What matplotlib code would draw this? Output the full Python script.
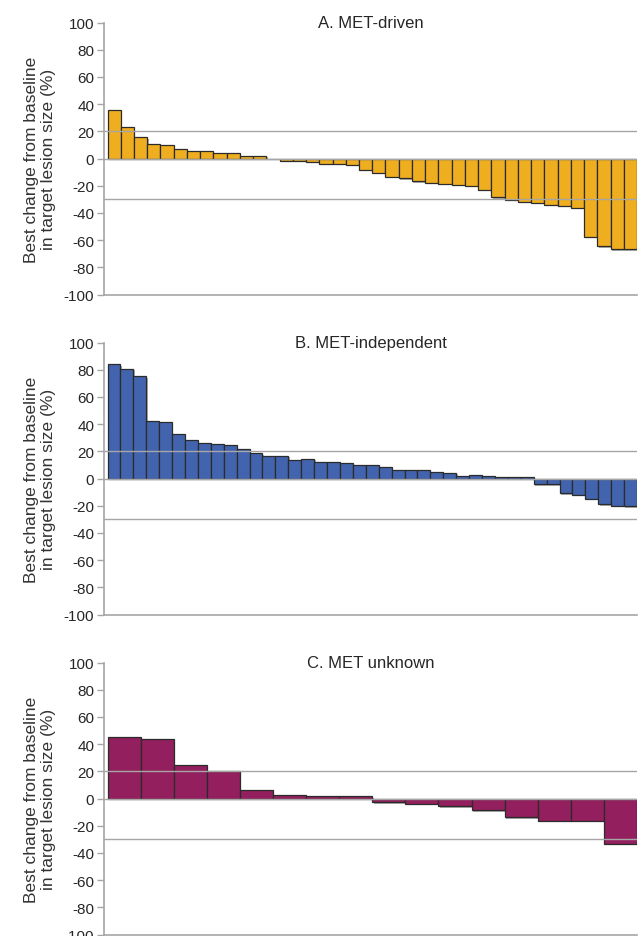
import matplotlib
matplotlib.use("Agg")
import matplotlib.pyplot as plt
import matplotlib.patheffects as pe
import numpy as np

plt.rcParams['font.family'] = ['Liberation Sans', 'DejaVu Sans']
plt.rcParams['axes.unicode_minus'] = False

# best change from baseline (%) per patient, sorted
met_driven = [36, 23.5, 15.7, 10.3, 9.8, 7.1, 5.4, 5.4, 4.2, 4.2, 2, 2, 0,
              -1.7, -1.7, -2.4, -3.9, -3.9, -4.6, -8.3, -10.3, -13.5, -14.7,
              -16.9, -17.9, -18.6, -19.4, -20.1, -22.8, -28.4, -30.4, -31.9,
              -32.8, -34, -34.8, -36.3, -57.6, -64.5, -66.9, -66.9]
met_indep = [84, 80.8, 75.2, 42.3, 41.3, 32.7, 28.6, 25.9, 25.4, 24.4, 21.7,
             18.6, 16.8, 16.8, 13.9, 14.6, 12.5, 12.5, 11.7, 9.8, 9.8, 8.1,
             6.6, 6.1, 6.1, 4.9, 4.4, 1.7, 2.4, 1.7, 1.2, 1.2, 1.2, -4.4, -4.4,
             -11, -12.2, -14.8, -18.9, -19.9, -20.5]
met_unknown = [44.9, 43.6, 24.9, 20, 6.3, 2.9, 1.7, 1.7, -2.9, -3.9, -5.6,
               -8.8, -13.7, -16.3, -16.3, -33.4]

titles = ["A. MET-driven", "B. MET-independent", "C. MET unknown"]
colors = ["#EFAE1F", "#4264AE", "#931F5E"]
yticks = [100, 80, 60, 40, 20, 0, -20, -40, -60, -80, -100]
ylab = "Best change from baseline\nin target lesion size (%)"

W, H = 638, 937
fig = plt.figure(figsize=(W / 100, H / 100), dpi=100)

left, right = 104, 637
tops = [23.5, 343.5, 663.5]
ph = 272
grey = "#a6a6a6"

for data, title, col, top in zip([met_driven, met_indep, met_unknown],
                                 titles, colors, tops):
    ax = fig.add_axes([left / W, 1 - (top + ph) / H, (right - left) / W, ph / H])
    n = len(data)
    bw = (right - left - 3.5) / n
    x = np.arange(n)
    bars = ax.bar(x, data, width=1.0, align='edge', color=col,
                  edgecolor="#2b2b2b", linewidth=0.9, zorder=2)
    for b in bars:
        b.set_path_effects([pe.SimplePatchShadow(offset=(1, -1), shadow_rgbFace="#777777", alpha=0.6),
                            pe.Normal()])
    for yv in (20, 0, -30):
        ax.axhline(yv, color=grey, lw=1.0, zorder=3)
    ax.set_xlim(-3.5 / bw, n)
    ax.set_ylim(-100, 100)
    ax.set_yticks(yticks)
    ax.set_yticklabels([str(v) for v in yticks])
    ax.set_xticks([])
    ax.tick_params(axis='y', length=5, width=1, color=grey, labelsize=11,
                   labelcolor="#262626", pad=2)
    for s in ('top', 'right'):
        ax.spines[s].set_visible(False)
    for s in ('left', 'bottom'):
        ax.spines[s].set_color(grey)
        ax.spines[s].set_linewidth(1.2)
    ax.text(0.5, 100, title, transform=ax.get_yaxis_transform(), ha='center',
            va='center', fontsize=12, color="#262626")
    fig.text(40 / W, 1 - (top + ph / 2) / H, ylab, rotation=90, ha='center',
             va='center', fontsize=12.5, color="#333333", linespacing=1.2)

fig.savefig("out.png", dpi=100)
